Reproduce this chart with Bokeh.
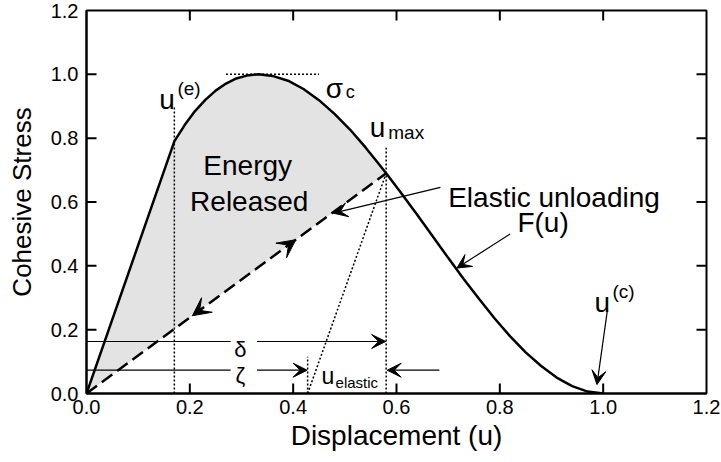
from bokeh.plotting import figure
from bokeh.models import (Range1d, FixedTicker, PrintfTickFormatter,
                          Arrow, VeeHead, Label)
from bokeh.embed import file_html
from bokeh.resources import INLINE

# ---- data ----
x_ticks = [0.0, 0.2, 0.4, 0.6, 0.8, 1.0, 1.2]
y_ticks = [0.0, 0.2, 0.4, 0.6, 0.8, 1.0, 1.2]

curve_u = [0.0, 0.17, 0.19, 0.21, 0.23, 0.25, 0.27, 0.29, 0.31, 0.333, 0.36, 0.39,
           0.42, 0.45, 0.48, 0.51, 0.54, 0.56, 0.58, 0.61, 0.64, 0.67, 0.70, 0.73,
           0.76, 0.79, 0.82, 0.85, 0.88, 0.91, 0.94, 0.97, 1.00]
curve_f = [0.0, 0.79, 0.841, 0.885, 0.920, 0.949, 0.971, 0.987, 0.996, 1.0, 0.995, 0.980,
           0.954, 0.919, 0.876, 0.827, 0.771, 0.731, 0.690, 0.626, 0.560, 0.493, 0.425, 0.359,
           0.296, 0.235, 0.179, 0.129, 0.086, 0.050, 0.023, 0.006, 0.0]

u_e = 0.17          # end of initial elastic branch
u_max = 0.58        # maximum displacement reached
f_at_umax = 0.69    # stress at u_max
u_foot = 0.428      # foot of the elastic line through u_max
sigma_c = 1.0       # peak stress
sigma_c_u = [0.27, 0.45]

FONT = "Liberation Sans"
X0, X1, Y0, Y1 = 0.0, 1.2, 0.0, 1.2
W, H = 721, 462
BL, BR, BT, BB = 86, 15, 10, 69

p = figure(width=W, height=H, x_range=Range1d(X0, X1), y_range=Range1d(Y0, Y1),
           output_backend="svg", toolbar_location=None,
           min_border_left=BL, min_border_right=BR, min_border_top=BT, min_border_bottom=BB)
p.xgrid.visible = False
p.ygrid.visible = False
p.outline_line_color = "black"
p.outline_line_width = 2
p.background_fill_color = "white"
p.border_fill_color = "white"

for ax, ticks in ((p.xaxis[0], x_ticks), (p.yaxis[0], y_ticks)):
    ax.ticker = FixedTicker(ticks=ticks)
    ax.formatter = PrintfTickFormatter(format="%.1f")
    ax.major_tick_in = 0
    ax.major_tick_out = 0
    ax.major_tick_line_color = None
    ax.minor_tick_line_color = None
    ax.axis_line_width = 2
    ax.major_label_text_font = FONT
    ax.major_label_text_font_size = "20px"
    ax.major_label_text_color = "black"
    ax.axis_label_text_font = FONT
    ax.axis_label_text_font_style = "normal"
    ax.axis_label_text_color = "black"
p.xaxis.axis_label = "Displacement (u)"
p.yaxis.axis_label = "Cohesive Stress"
p.xaxis.axis_label_text_font_size = "28px"
p.yaxis.axis_label_text_font_size = "26px"
p.xaxis.major_label_standoff = 6
p.yaxis.major_label_standoff = 8
p.xaxis.axis_label_standoff = 3
p.yaxis.axis_label_standoff = 11

# inward tick marks on all four sides (10 px long)
fw, fh = W - BL - BR, H - BT - BB
tx = 10 * (X1 - X0) / fw
ty = 10 * (Y1 - Y0) / fh
xt = [t for t in x_ticks if X0 < t < X1]
yt = [t for t in y_ticks if Y0 < t < Y1]
bx0 = xt + xt
by0 = [Y0] * len(xt) + [Y1] * len(xt)
by1 = [Y0 + ty] * len(xt) + [Y1 - ty] * len(xt)
p.segment(x0=bx0, y0=by0, x1=bx0, y1=by1, line_color="black", line_width=2)
ly0 = yt + yt
lx0 = [X0] * len(yt) + [X1] * len(yt)
lx1 = [X0 + tx] * len(yt) + [X1 - tx] * len(yt)
p.segment(x0=lx0, y0=ly0, x1=lx1, y1=ly0, line_color="black", line_width=2)

# shaded energy region: curve up to u_max, closed back along the unloading line
n = curve_u.index(u_max) + 1
p.patch(curve_u[:n] + [0.0], curve_f[:n] + [0.0], fill_color="#e3e3e3", line_color=None)

# cohesive law curve
p.line(curve_u, curve_f, line_color="black", line_width=2.5)

# dashed elastic unloading line
p.line([0.0, u_max], [0.0, f_at_umax], line_color="black", line_width=2.5, line_dash="13 6")

# dotted guides
p.line([u_e, u_e], [0.0, 0.90], line_color="black", line_width=1.5, line_dash="2 2")
p.line([u_max, u_max], [0.0, 0.77], line_color="black", line_width=1.5, line_dash="2 2")
p.line([u_foot, u_max], [0.0, f_at_umax], line_color="black", line_width=1.5, line_dash="2 2")
p.line([u_foot, u_foot], [0.0, 0.115], line_color="black", line_width=1.5, line_dash="2 2")
p.line(sigma_c_u, [sigma_c, sigma_c], line_color="black", line_width=1.5, line_dash="2 2")

def arrow(x0, y0, x1, y1, size=14, lw=1.2, line=True):
    p.add_layout(Arrow(end=VeeHead(size=size, fill_color="black", line_color="black", line_width=1),
                       x_start=x0, y_start=y0, x_end=x1, y_end=y1,
                       line_color="black", line_width=lw, line_alpha=1.0 if line else 0.0))

# direction arrows on the unloading line
arrow(0.37, 0.37 * f_at_umax / u_max, 0.405, 0.405 * f_at_umax / u_max, size=18, line=False)
arrow(0.24, 0.24 * f_at_umax / u_max, 0.205, 0.205 * f_at_umax / u_max, size=18, line=False)

# delta / zeta / u_elastic dimension arrows
p.segment(x0=[0.0, 0.0], y0=[0.163, 0.073], x1=[0.279, 0.279], y1=[0.163, 0.073],
          line_color="black", line_width=1.2)
arrow(0.33, 0.163, 0.579, 0.163)
arrow(0.33, 0.073, 0.427, 0.073)
arrow(0.683, 0.073, 0.582, 0.073)

# pointers
arrow(0.685, 0.646, 0.478, 0.565)
arrow(0.82, 0.50, 0.717, 0.393)
arrow(1.008, 0.259, 0.988, 0.028)

def label(x, y, text, size, align="left", baseline="alphabetic"):
    p.add_layout(Label(x=x, y=y, text=text, text_font=FONT, text_font_size=size,
                       text_color="black", text_align=align, text_baseline=baseline))

label(0.312, 0.714, "Energy", "28px", align="center")
label(0.315, 0.601, "Released", "28px", align="center")
label(0.700, 0.613, "Elastic unloading", "28px")
label(0.834, 0.536, "F(u)", "28px")
label(0.141, 0.920, "u", "28px")
label(0.176, 0.955, "(e)", "19px")
label(0.548, 0.833, "u", "28px")
label(0.584, 0.818, "max", "19px")
label(0.463, 0.955, "σ", "28px")
label(0.502, 0.944, "c", "18px")
label(0.983, 0.284, "u", "28px")
label(1.018, 0.319, "(c)", "19px")
label(0.298, 0.139, "δ", "22px", align="center")
label(0.298, 0.056, "ζ", "22px", align="center")
label(0.455, 0.056, "u", "23px")
label(0.482, 0.035, "elastic", "15px")

open("out.html", "w").write(file_html(p, INLINE))
